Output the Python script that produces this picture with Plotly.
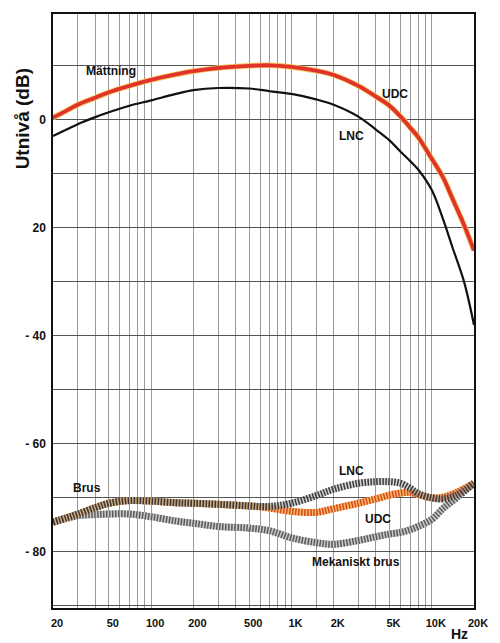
import numpy as np
import plotly.graph_objects as go

# ---- data ----
freq_sat = [20, 25, 30, 40, 50, 70, 100, 150, 200, 300, 500, 700, 1000, 1500,
            2000, 3000, 4000, 5000, 6000, 7000, 8000, 10000, 12000, 14000, 17000, 20000]
sat_udc = [0.4, 1.7, 2.8, 4.1, 5.1, 6.3, 7.4, 8.4, 9.0, 9.6, 10.0, 10.1, 9.8, 9.1,
           8.3, 6.3, 4.3, 2.6, 0.6, -1.4, -3.2, -7.2, -10.6, -14.5, -19.5, -24.2]
sat_lnc = [-3.0, -1.8, -0.8, 0.5, 1.4, 2.6, 3.6, 4.8, 5.5, 5.9, 5.8, 5.3, 4.8, 3.8,
           2.8, 0.6, -1.8, -3.8, -5.9, -7.6, -9.2, -13.0, -18.3, -23.5, -30.0, -38.0]

freq = [20, 25, 30, 40, 50, 70, 100, 150, 200, 300, 500, 700, 1000, 1500,
        2000, 3000, 4000, 5000, 6000, 7000, 8000, 10000, 12000, 15000, 20000]
brus_udc = [-74.5, -73.7, -73.0, -71.8, -71.0, -70.5, -70.6, -70.9, -71.0, -71.2, -71.5, -71.9, -72.5, -72.7,
            -72.0, -71.0, -70.2, -69.5, -69.1, -69.0, -69.4, -70.0, -69.9, -69.0, -67.3]
brus_lnc = [-74.5, -73.7, -73.0, -71.8, -71.0, -70.5, -70.6, -70.9, -71.0, -71.2, -71.5, -71.6, -71.0, -69.6,
            -68.4, -67.3, -67.0, -67.0, -67.3, -68.2, -69.2, -70.0, -70.2, -69.5, -67.3]
mek_brus = [-74.5, -73.8, -73.3, -73.1, -73.0, -73.0, -73.5, -74.3, -74.7, -75.3, -75.6, -76.1, -77.4, -78.3,
            -78.6, -77.9, -77.2, -76.7, -76.4, -75.9, -75.3, -74.0, -72.0, -70.0, -67.3]

x_grid = [20, 30, 40, 50, 60, 70, 80, 90, 100, 200, 300, 400, 500, 600, 700, 800, 900,
          1000, 1500, 2000, 3000, 4000, 5000, 6000, 7000, 8000, 9000, 10000, 20000]
x_labels = {20: "20", 50: "50", 100: "100", 200: "200", 500: "500", 1000: "1K",
            2000: "2K", 5000: "5K", 10000: "10K", 20000: "20K"}
y_grid = [10, 0, -10, -20, -30, -40, -50, -60, -70, -80, -90]
y_labels = {0: "0", -20: "20", -40: "- 40", -60: "- 60", -80: "- 80"}

FONT = "Liberation Sans"

fig = go.Figure()

def hatched(y, under, over, w=7):
    fig.add_trace(go.Scatter(x=freq, y=y, mode="lines",
                             line=dict(color=under, width=w, shape="spline", smoothing=1.0),
                             hoverinfo="skip", showlegend=False))
    fig.add_trace(go.Scatter(x=freq, y=y, mode="lines",
                             line=dict(color=over, width=w, shape="spline", smoothing=1.0,
                                       dash="1.5px,1.5px"),
                             hoverinfo="skip", showlegend=False))

# noise curves
hatched(mek_brus, "#c8c8c8", "#5a5a5a")
hatched(brus_udc, "#f5bd5a", "#d8452c")
hatched(brus_lnc, "rgba(170,170,170,0.5)", "#3a3a3a")

# saturation curves
fig.add_trace(go.Scatter(x=freq_sat, y=sat_udc, mode="lines",
                         line=dict(color="#f6c45a", width=5.5, shape="spline", smoothing=1.0),
                         hoverinfo="skip", showlegend=False))
fig.add_trace(go.Scatter(x=freq_sat, y=sat_udc, mode="lines",
                         line=dict(color="#e0332b", width=3.8, shape="spline", smoothing=1.0),
                         hoverinfo="skip", showlegend=False))
fig.add_trace(go.Scatter(x=freq_sat, y=sat_lnc, mode="lines",
                         line=dict(color="#111111", width=2.2, shape="spline", smoothing=1.0),
                         hoverinfo="skip", showlegend=False))

labels = [
    ("Mättning", 51.8, 9.1),
    ("UDC", 5490, 4.8),
    ("LNC", 2700, -3.0),
    ("Brus", 35.2, -68.2),
    ("LNC", 2700, -65.1),
    ("UDC", 4170, -73.9),
    ("Mekaniskt brus", 2880, -81.9),
]
for t, xv, yv in labels:
    fig.add_annotation(x=np.log10(xv), y=yv, text=t, showarrow=False,
                       font=dict(family=FONT, size=12, color="#111", weight="bold"),
                       xanchor="center", yanchor="middle")

fig.add_annotation(xref="paper", yref="paper", x=-0.0724, y=0.8235,
                   text="Utnivå (dB)", textangle=-90, showarrow=False,
                   font=dict(family=FONT, size=19, color="#111", weight="bold"),
                   xanchor="center", yanchor="middle")
fig.add_annotation(xref="paper", yref="paper", x=0.9654, y=-0.0435,
                   text="Hz", showarrow=False, borderpad=0,
                   font=dict(family=FONT, size=14, color="#111", weight="bold"),
                   xanchor="center", yanchor="middle")

fig.update_xaxes(type="log", range=[np.log10(20), np.log10(20000)],
                 tickvals=x_grid, ticktext=[x_labels.get(v, "") for v in x_grid],
                 showgrid=True, gridcolor="#9a9a9a", gridwidth=1,
                 showline=True, mirror=True, linecolor="#111", linewidth=1.5,
                 ticks="", ticklabelshift=4, ticklabelstandoff=4,
                 tickfont=dict(family=FONT, size=11, color="#111", weight="bold"),
                 zeroline=False)
fig.update_yaxes(range=[-90.4, 19.6],
                 tickvals=y_grid, ticktext=[y_labels.get(v, "") for v in y_grid],
                 showgrid=True, gridcolor="#555555", gridwidth=1,
                 showline=True, mirror=True, linecolor="#111", linewidth=1.5,
                 ticks="", ticklabelstandoff=3,
                 tickfont=dict(family=FONT, size=12, color="#111", weight="bold"),
                 zeroline=False)

fig.update_layout(width=500, height=643, margin=dict(l=53, r=19, t=13, b=35),
                  paper_bgcolor="white", plot_bgcolor="white", showlegend=False)

fig.write_html("out.html", config={"displayModeBar": False},
               post_script="document.body.style.margin='0';document.body.style.overflow='hidden';")
